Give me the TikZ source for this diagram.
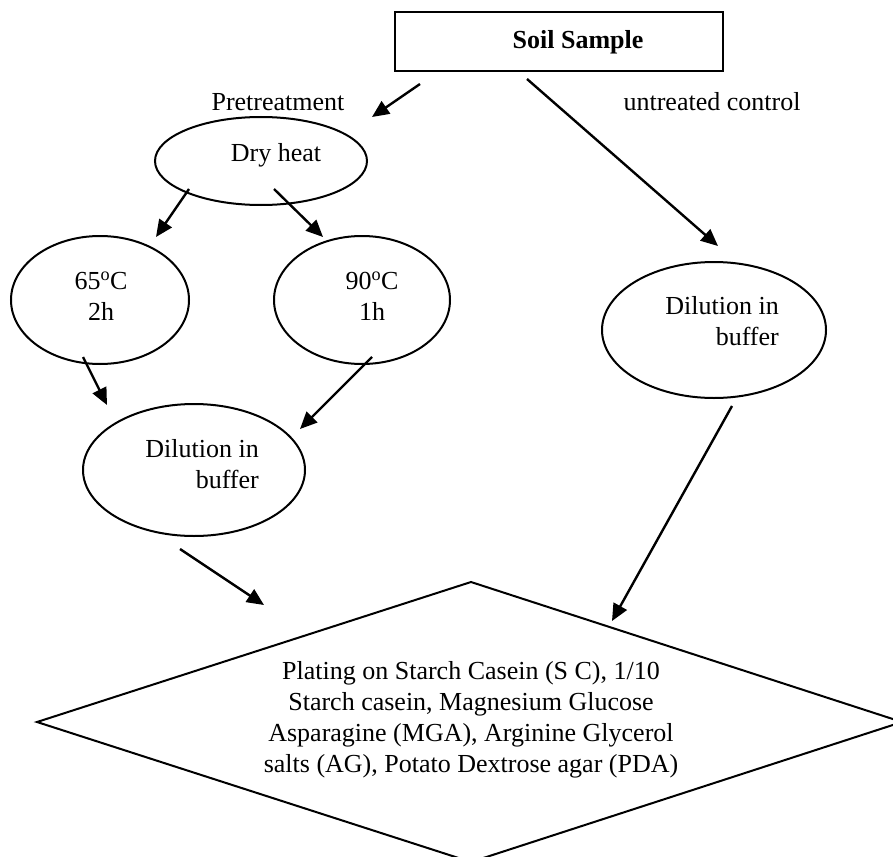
\documentclass[tikz,border=0pt]{standalone}
\usepackage{fontspec}
\setmainfont{Liberation Serif}
\usetikzlibrary{shapes.geometric,arrows.meta}
\tikzset{
  txt/.style={font=\fontsize{26}{31}\selectfont, inner sep=0pt, align=center},
  oval/.style={draw, ellipse, line width=2pt, inner sep=0pt},
  arr/.style={line width=2.4pt, -{Triangle[length=17pt,width=15pt]}},
}
\begin{document}
\begin{tikzpicture}[x=1pt,y=-1pt]
\useasboundingbox (0,0) rectangle (893,856);
% box
\node[draw, line width=2pt, minimum width=328pt, minimum height=59pt, inner sep=0pt] (soil) at (558.5,41.5) {};
\node[txt, font=\fontsize{26}{31}\selectfont\bfseries] (soilt) at (578,42) {Soil Sample};
\node[txt] (pre) at (278,102) {Pretreatment};
\node[txt] (unt) at (712,102) {untreated control};
% ellipses
\node[oval, minimum width=212pt, minimum height=88pt] (dry) at (261,161) {};
\node[txt] (dryt) at (276,155) {Dry heat};
\node[oval, minimum width=178pt, minimum height=128pt] (e65) at (100,300) {};
\node[txt] (e65t) at (101,296) {65\textsuperscript{o}C\\2h};
\node[oval, minimum width=176pt, minimum height=128pt] (e90) at (362,300) {};
\node[txt] (e90t) at (372,296) {90\textsuperscript{o}C\\1h};
\node[oval, minimum width=222pt, minimum height=132pt] (dilL) at (194,470) {};
\node[txt, align=right, anchor=east] (dilLt) at (259,464) {Dilution in\\buffer};
\node[oval, minimum width=224pt, minimum height=136pt] (dilR) at (714,330) {};
\node[txt, align=right, anchor=east] (dilRt) at (779,321) {Dilution in\\buffer};
% diamond
\coordinate (dT) at (471,582);
\coordinate (dL) at (37,722);
\coordinate (dR) at (902,722);
\coordinate (dB) at (471,862);
\draw[line width=2pt, line join=miter] (dT) -- (dR) -- (dB) -- (dL) -- cycle;
\node[txt] (plat) at (471,720) {Plating on Starch Casein (S C), 1/10\\Starch casein, Magnesium Glucose\\Asparagine (MGA), Arginine Glycerol\\salts (AG), Potato Dextrose agar (PDA)};
% arrow endpoints
\coordinate (a1s) at (420,84);  \coordinate (a1e) at (372,117);
\coordinate (a2s) at (527,79);  \coordinate (a2e) at (718,246);
\coordinate (a3s) at (189,189); \coordinate (a3e) at (156,237);
\coordinate (a4s) at (274,189); \coordinate (a4e) at (323,237);
\coordinate (a5s) at (83,357);  \coordinate (a5e) at (107,405);
\coordinate (a6s) at (372,357); \coordinate (a6e) at (300,429);
\coordinate (a7s) at (180,549); \coordinate (a7e) at (264,605);
\coordinate (a8s) at (732,406); \coordinate (a8e) at (612,621);
\draw[arr] (a1s) -- (a1e);
\draw[arr] (a2s) -- (a2e);
\draw[arr] (a3s) -- (a3e);
\draw[arr] (a4s) -- (a4e);
\draw[arr] (a5s) -- (a5e);
\draw[arr] (a6s) -- (a6e);
\draw[arr] (a7s) -- (a7e);
\draw[arr] (a8s) -- (a8e);
\end{tikzpicture}
\end{document}
